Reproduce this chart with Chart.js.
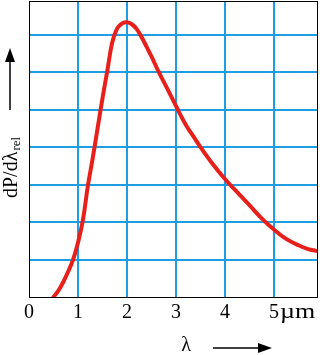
<!DOCTYPE html>
<html>
<head>
<meta charset="utf-8">
<script src="https://cdn.jsdelivr.net/npm/chart.js@4/dist/chart.umd.min.js"></script>
<style>
  html, body { margin: 0; padding: 0; background: #fff; }
  canvas { display: block; }
</style>
</head>
<body>
<canvas id="chart" width="320" height="355"></canvas>
<script>
// wavelength in um
const lambda = [0.5, 0.6, 0.7, 0.8, 0.9, 1.0, 1.1, 1.2, 1.3, 1.4, 1.5, 1.6, 1.7, 1.8, 1.9, 2.0,
                2.1, 2.2, 2.3, 2.4, 2.5, 2.65, 2.8, 3.0, 3.2, 3.4, 3.5, 3.75, 4.0, 4.25, 4.5,
                4.75, 5.0, 5.25, 5.5, 5.7, 5.86];
// relative spectral power, one unit per grid row
const power = [0, 0.17, 0.4, 0.68, 1.0, 1.45, 2.05, 2.95, 3.7, 4.5, 5.3, 6.05, 6.8, 7.17, 7.3, 7.33,
               7.28, 7.15, 6.93, 6.68, 6.42, 6.0, 5.62, 5.1, 4.6, 4.2, 4.0, 3.55, 3.15, 2.8, 2.45,
               2.1, 1.8, 1.55, 1.38, 1.28, 1.23];
const xTicks = [0, 1, 2, 3, 4, 5];
const yTicks = [0, 1, 2, 3, 4, 5, 6, 7];
const xUnit = 'µm';

const gridBlue = '#1f9de3';
const serif = '"Liberation Serif", "DejaVu Serif", serif';
const tickFont = 20;
const tickPad = 4;

function gridColor(c) {
    const v = c.tick ? c.tick.value : 0;
    return v > 0 ? gridBlue : 'rgba(0,0,0,0)';
}

function arrowHead(ctx, x, y, dir) {
    ctx.beginPath();
    if (dir === 'up') {
        ctx.moveTo(x, y); ctx.lineTo(x - 5, y + 14); ctx.lineTo(x + 5, y + 14);
    } else {
        ctx.moveTo(x, y); ctx.lineTo(x - 14, y - 5); ctx.lineTo(x - 14, y + 5);
    }
    ctx.closePath();
    ctx.fill();
}

const decorPlugin = {
    id: 'decor',
    afterDraw(chart) {
        const ctx = chart.ctx;
        const a = chart.chartArea;
        const xs = chart.scales.x;
        ctx.save();
        // frame
        ctx.strokeStyle = '#000';
        ctx.lineWidth = 1;
        ctx.strokeRect(a.left + 0.5, a.top + 0.5, a.right - a.left - 1, a.bottom - a.top);

        // unit after the "5" tick
        ctx.fillStyle = '#000';
        ctx.font = tickFont + 'px ' + serif;
        ctx.textBaseline = 'middle';
        ctx.textAlign = 'left';
        const labelY = xs.top + tickPad + tickFont * 1.2 / 2;
        ctx.save();
        ctx.translate(xs.getPixelForValue(5) + 6, labelY);
        ctx.scale(1.3, 1);
        ctx.fillText(xUnit, 0, 0);
        ctx.restore();

        // x axis name with arrow
        ctx.textAlign = 'center';
        ctx.fillText('λ', 186, 346);
        ctx.lineWidth = 1.5;
        ctx.beginPath(); ctx.moveTo(213, 348); ctx.lineTo(262, 348); ctx.stroke();
        arrowHead(ctx, 272, 348, 'right');

        // y axis name with arrow
        ctx.translate(12, 198);
        ctx.rotate(-Math.PI / 2);
        ctx.textAlign = 'left';
        ctx.textBaseline = 'middle';
        ctx.font = tickFont + 'px ' + serif;
        const main = 'dP/dλ';
        ctx.fillText(main, 0, 0);
        const w = ctx.measureText(main).width;
        ctx.font = '13px ' + serif;
        ctx.fillText('rel', w + 1, 5);
        ctx.restore();

        ctx.save();
        ctx.fillStyle = '#000';
        ctx.strokeStyle = '#000';
        ctx.lineWidth = 1.5;
        ctx.beginPath(); ctx.moveTo(10, 110); ctx.lineTo(10, 58); ctx.stroke();
        arrowHead(ctx, 10, 48, 'up');
        ctx.restore();
    }
};

new Chart(document.getElementById('chart').getContext('2d'), {
    type: 'scatter',
    data: {
        datasets: [{
            data: lambda.map((x, i) => ({ x: x, y: power[i] })),
            showLine: true,
            borderColor: '#e8201c',
            borderWidth: 4,
            pointRadius: 0,
            tension: 0.4,
            borderCapStyle: 'round'
        }]
    },
    options: {
        responsive: false,
        animation: false,
        devicePixelRatio: 1,
        layout: { padding: { left: 29, top: 1, right: 2, bottom: 0 } },
        plugins: { legend: { display: false }, tooltip: { enabled: false } },
        scales: {
            x: {
                type: 'linear',
                min: 0,
                max: 5.9,
                afterBuildTicks: s => { s.ticks = xTicks.map(v => ({ value: v })); },
                afterFit: s => { s.height = 58; },
                ticks: {
                    autoSkip: false,
                    maxRotation: 0,
                    padding: tickPad,
                    color: '#000',
                    font: { family: serif, size: tickFont },
                    callback: v => String(v)
                },
                grid: { color: gridColor, lineWidth: 2, drawTicks: false },
                border: { display: false }
            },
            y: {
                min: 0,
                max: 7.9,
                afterBuildTicks: s => { s.ticks = yTicks.map(v => ({ value: v })); },
                afterFit: s => { s.width = 0; },
                ticks: { display: false },
                grid: { color: gridColor, lineWidth: 2, drawTicks: false },
                border: { display: false }
            }
        }
    },
    plugins: [decorPlugin]
});
</script>
</body>
</html>
